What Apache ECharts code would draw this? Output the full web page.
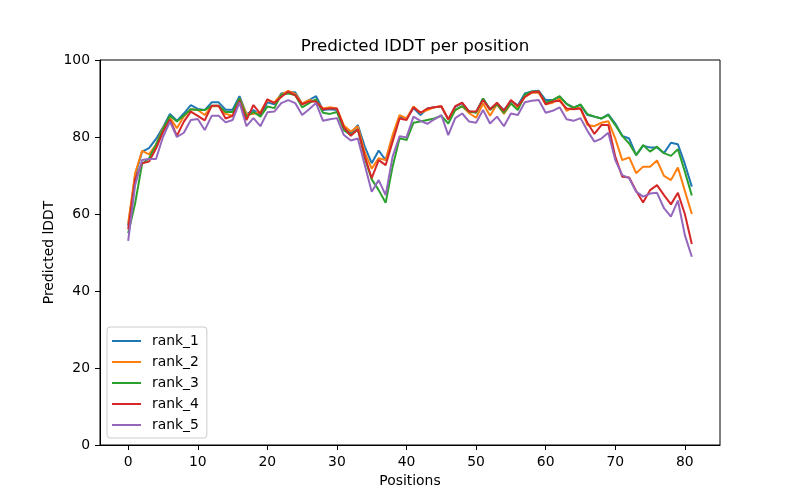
<!DOCTYPE html>
<html>
<head>
<meta charset="utf-8">
<script src="https://cdn.jsdelivr.net/npm/echarts@6/dist/echarts.min.js"></script>
<style>html,body{margin:0;padding:0;background:#fff;}#c{width:800px;height:500px;}</style>
</head>
<body>
<div id="c"></div>
<script>
const seriesNames = ['rank_1', 'rank_2', 'rank_3', 'rank_4', 'rank_5'];
const xTicks = [0, 10, 20, 30, 40, 50, 60, 70, 80];
const yTicks = [0, 20, 40, 60, 80, 100];

const rank_1 = [57,70,76.2,77.1,79.5,82.5,86,84.2,86.1,88.3,87.3,87,89,89,87.1,87.1,90.6,85.9,87,85.5,
89,88.5,91.3,91.6,91.6,88.6,89.6,90.6,87,87.2,87,82.5,80.8,83.1,77.5,73.2,76.5,74,80,85.3,
84.8,87.5,85.7,87.4,87.7,87.9,84.5,87.8,88.8,86.6,86.4,90,87.2,88.7,87,89.3,88.2,91.3,91.8,92,
89.6,89.6,90.5,88.6,87.7,88.3,85.7,85.3,84.8,85.9,83.5,80.3,79.6,75.3,77.7,77.3,77.3,75.8,78.5,78.1,
73,67.1];
const rank_2 = [57.5,70.6,76.4,75.5,78,82.3,85,82.3,85.3,87.2,87,85.7,88,88,86,85.5,90,86,86,86.5,
89.6,89,91,92,91.2,88.7,89.6,89.2,87.4,87.7,87.4,83,81.4,82.8,76,71.8,74.5,74,80.5,85.7,
84.8,87.9,86.3,87,87.7,88,84.6,87,88,86.2,85,88.7,85.5,88.5,86,88.7,87.5,90.4,91.5,91.5,
88.5,88.9,90,86.8,87.7,87.4,83.1,82.8,83.7,84.1,79.6,74,74.7,70.6,72.3,72.3,73.9,69.9,68.8,72.1,
66,60];
const rank_3 = [55,62.8,73,74.5,78,82,85.5,84,85.6,87.2,87,87,88.1,88.1,86.5,86.5,90,85.3,86.5,85.3,
87.9,87.5,91,91.3,90.9,87.7,88.8,89.8,86.3,86,86.5,81.8,80.5,82,74.5,69,66.2,62.9,72.3,79.7,
79.2,83.7,84,84.4,84.8,85.5,83.5,87,88,86.6,86.3,90,87,88.5,86.3,88.7,87,91,91.8,91.8,
88.9,89.6,90.6,88.6,87.5,88.5,85.9,85.3,84.8,85.7,83.1,80.3,78.3,75.3,77.9,76.2,77.5,75.8,75.1,76.8,
71,64.8];
const rank_4 = [56,69,73.2,73.6,77,81.3,84.5,80.3,84,86.6,85.5,84.3,88.1,88.1,84.8,85.5,89.4,84.4,88.3,86,
89.8,88.8,90.4,91.8,90.8,88.5,89.2,89.2,87.2,87.4,87.4,82.5,80.3,82,75,69.3,74,72.7,78.8,84.8,
84.4,87.7,86.3,87.4,87.7,88,84.6,88,88.9,86.6,86.6,89.6,87.2,88.9,86.8,89.6,88,90.4,91.6,91.8,
88.5,89.2,89.4,87.4,87.2,87.4,83.7,80.8,83.1,83.1,74.9,69.7,69.5,66,63,66.2,67.5,64.9,62.5,65.5,
60,52.2];
const rank_5 = [53,67.5,74,74.3,74.3,80,84,80,81.1,84.4,84.7,81.8,85.5,85.5,83.8,84.4,89,82.8,84.9,82.8,
86.4,86.6,88.8,89.6,88.8,85.7,87.2,88.8,84.2,84.6,84.9,80.5,79.1,79.6,72.7,65.8,68.8,64.9,74.9,80.2,
79.9,85.3,84.2,83.4,84.6,85.7,80.5,84.9,86.1,84,83.7,87,83.5,85.3,82.8,86.1,85.7,89,89.4,89.6,
86.3,86.8,87.7,84.6,84.2,84.9,81.6,78.8,79.6,81.1,74,70.1,69.3,65.8,64.5,65.3,65.5,61.5,59.3,63.5,
54.5,48.9];

const allValues = [rank_1, rank_2, rank_3, rank_4, rank_5];
const colors = ['#1f77b4', '#ff7f0e', '#2ca02c', '#d62728', '#9467bd'];
const FONT = 'DejaVu Sans';

const chart = echarts.init(document.getElementById('c'), null, {renderer: 'canvas'});
const option = {
  animation: false,
  backgroundColor: '#ffffff',
  title: {
    text: 'Predicted lDDT per position',
    left: 410, top: 33, textAlign: 'center',
    textStyle: {fontFamily: FONT, fontSize: 16.7, fontWeight: 'normal', color: '#000'}
  },
  grid: {left: 100, right: 80, top: 60, bottom: 55, show: true, borderColor: '#000', borderWidth: 1, backgroundColor: 'transparent'},
  legend: {
    orient: 'vertical', left: 107, top: 327,
    data: seriesNames,
    icon: 'rect', itemWidth: 29, itemHeight: 2, itemGap: 7,
    padding: [7, 8, 6, 5],
    backgroundColor: 'rgba(255,255,255,0.8)', borderColor: '#cccccc', borderWidth: 1, borderRadius: 3,
    textStyle: {fontFamily: FONT, fontSize: 13.9, color: '#000', padding: [0, 0, 0, 6]}
  },
  xAxis: {
    type: 'value', min: -4.05, max: 85.05,
    name: 'Positions', nameLocation: 'middle', nameGap: 29, nameMoveOverlap: false,
    nameTextStyle: {fontFamily: FONT, fontSize: 13.9, color: '#000'},
    axisLine: {show: true, onZero: false, lineStyle: {color: '#000', width: 1}},
    axisTick: {show: true, length: 5, lineStyle: {color: '#000'}, customValues: xTicks},
    axisLabel: {fontFamily: FONT, fontSize: 13.9, color: '#000', margin: 10, customValues: xTicks},
    splitLine: {show: false}
  },
  yAxis: {
    type: 'value', min: 0, max: 100, interval: 20,
    name: 'Predicted lDDT', nameLocation: 'middle', nameGap: 44, nameRotate: 90, nameMoveOverlap: false,
    nameTextStyle: {fontFamily: FONT, fontSize: 13.9, color: '#000'},
    axisLine: {show: true, onZero: false, lineStyle: {color: '#000', width: 1}},
    axisTick: {show: true, length: 5, lineStyle: {color: '#000'}, customValues: yTicks},
    axisLabel: {fontFamily: FONT, fontSize: 13.9, color: '#000', margin: 10, customValues: yTicks},
    splitLine: {show: false}
  },
  series: seriesNames.map((name, k) => ({
    name: name, type: 'line',
    data: allValues[k].map((v, i) => [i, v]),
    showSymbol: false, symbol: 'none',
    color: colors[k],
    lineStyle: {color: colors[k], width: 2},
    z: 2 + k
  }))
};
chart.setOption(option);
</script>
</body>
</html>
